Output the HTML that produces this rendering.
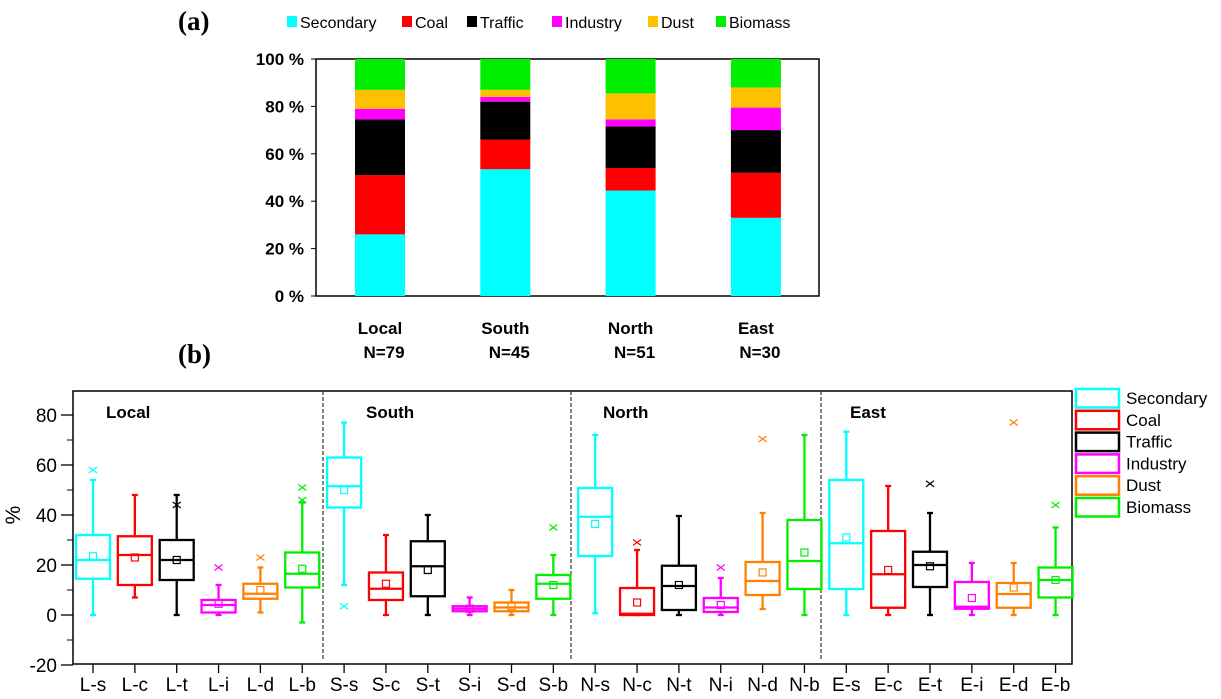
<!DOCTYPE html>
<html><head><meta charset="utf-8"><style>
html,body{margin:0;padding:0;background:#fff;}
svg{display:block;font-family:"Liberation Sans",sans-serif;}
</style></head><body>
<svg id="fig" width="1221" height="699" viewBox="0 0 1221 699">
<g id="top"></g>
<g id="bot"></g>
</svg>
<script>
const NS="http://www.w3.org/2000/svg";
// ---- chart (a) data ----
const regions=["Local","South","North","East"];
const nLabels=["N=79","N=45","N=51","N=30"];
const sources=["Secondary","Coal","Traffic","Industry","Dust","Biomass"];
const fillColors=["#00ffff","#ff0000","#000000","#ff00ff","#ffc000","#00ee00"];
const secondaryPct=[26,53.5,44.5,33];
const coalPct=[25,12.5,9.5,19];
const trafficPct=[23.5,16,17.5,18];
const industryPct=[4.5,2,3,9.5];
const dustPct=[8,3,11,8.5];
const biomassPct=[13,13,14.5,12];
const pctTicks=[0,20,40,60,80,100];
// ---- chart (b) data ----
const boxCats=["L-s","L-c","L-t","L-i","L-d","L-b","S-s","S-c","S-t","S-i","S-d","S-b","N-s","N-c","N-t","N-i","N-d","N-b","E-s","E-c","E-t","E-i","E-d","E-b"];
const whiskLow=[0,7,0,0,1,-3, 12,0,0,0,0,0, 0.7,0,0,0,2.4,0, 0,0,0,0,0,0];
const q1=[14.5,12,14,1,6.5,11, 43,6,7.5,1.5,1.5,6.5, 23.6,0,2,1.2,8,10.4, 10.4,2.9,11.2,2.5,2.9,7];
const medians=[22,24,22,4,8.5,16.5, 51.5,10.5,19.5,2.5,3,12.5, 39.3,0.5,11.6,3,13.6,21.6, 28.7,16.3,20,3.3,8.4,14];
const q3=[32,31.5,30,6,12.5,25, 63,17,29.5,3.5,5,16, 50.8,10.8,19.7,6.8,21.2,38, 54,33.6,25.3,13.2,12.8,19];
const whiskHigh=[54,48,48,12,19,45, 77,32,40,7,10,24, 72,26,39.6,14.8,40.8,72, 73.3,51.6,40.8,20.8,20.8,35];
const means=[23.5,23,22,4.5,10,18.5, 50,12.5,18,2.5,3.5,12, 36.4,5,12,4,17,25, 31,18,19.5,6.8,11,14];
const outliers=[[58],[],[44],[19],[23],[46,51],[3.5],[],[],[],[],[35],[],[29],[],[19],[70.4],[],[],[],[52.5],[],[77],[44]];
const boxTicks=[-20,0,20,40,60,80];
const groupNames=["Local","South","North","East"];
const boxColors=["#00ffff","#ff0000","#000000","#ff00ff","#ff8000","#00ee00"];

function mk(parent,tag,attrs,text){const e=document.createElementNS(NS,tag);for(const k in attrs)e.setAttribute(k,attrs[k]);if(text!==undefined)e.textContent=text;parent.appendChild(e);return e;}

// ===== chart (a) =====
const T=document.getElementById('top');
const ax0=316,ax1=819,ay0=296,ay1=59;
const ya=v=>ay0-(ay0-ay1)*v/100;
const xa=i=>380+i*125.3;
let e=mk(T,'text',{x:178,y:30,'font-family':'Liberation Serif,serif','font-size':27,'font-weight':'bold'},'(a)');

e=mk(T,'text',{x:178,y:363,'font-family':'Liberation Serif,serif','font-size':27,'font-weight':'bold'},'(b)');

const legX=[287,402,467,552,648,716];
sources.forEach((s,i)=>{const g=mk(T,'g',{});

mk(g,'rect',{x:legX[i],y:16,width:10,height:11,fill:fillColors[i]});
mk(g,'text',{x:legX[i]+13,y:28,'font-size':16},s);});
mk(T,'rect',{x:ax0,y:ay1,width:ax1-ax0,height:ay0-ay1,fill:'none',stroke:'#000','stroke-width':1.5});
pctTicks.forEach(t=>{mk(T,'line',{x1:ax0-5,x2:ax0,y1:ya(t),y2:ya(t),stroke:'#000'});
e=mk(T,'text',{x:ax0-12,y:ya(t)+6,'text-anchor':'end','font-size':17,'font-weight':'bold'},t+' %');
});
const stacks=[secondaryPct,coalPct,trafficPct,industryPct,dustPct,biomassPct];
regions.forEach((r,i)=>{let cum=0;
stacks.forEach((arr,k)=>{const v=arr[i];
const rc=mk(T,'rect',{x:xa(i)-25,y:ya(cum+v),width:50,height:ya(cum)-ya(cum+v),fill:fillColors[k]});

cum+=v;});
e=mk(T,'text',{x:xa(i),y:334,'text-anchor':'middle','font-size':17,'font-weight':'bold'},r);

e=mk(T,'text',{x:xa(i)+4,y:358,'text-anchor':'middle','font-size':17,'font-weight':'bold'},nLabels[i]);
});

// ===== chart (b) =====
const B=document.getElementById('bot');
const bx0=73,bx1=1072,by0=664,by1=391;
const yb=v=>615-2.5*v;
const xb=i=>93+i*41.85;
mk(B,'rect',{x:bx0,y:by1,width:bx1-bx0,height:by0-by1,fill:'none',stroke:'#000','stroke-width':1.5});
boxTicks.forEach(t=>{mk(B,'line',{x1:bx0-12,x2:bx0,y1:yb(t),y2:yb(t),stroke:'#000','stroke-width':1.3});
if(t<80)mk(B,'line',{x1:bx0-6,x2:bx0,y1:yb(t+10),y2:yb(t+10),stroke:'#000'});
e=mk(B,'text',{x:bx0-16,y:yb(t)+7,'text-anchor':'end','font-size':19},t);
});
e=mk(B,'text',{x:20,y:515,'text-anchor':'middle','font-size':21,transform:'rotate(-90 20 515)'},'%');

[323,571,821].forEach(x=>{const l=mk(B,'line',{x1:x,x2:x,y1:by1,y2:by0-3,stroke:'#333','stroke-dasharray':'4,2','stroke-width':1.2});
});
groupNames.forEach((g,i)=>{e=mk(B,'text',{x:[106,366,603,850][i],y:418,'font-size':17,'font-weight':'bold'},g);
});
boxCats.forEach((c,i)=>{const col=boxColors[i%6];const x=xb(i);const w=17;
const g=mk(B,'g',{stroke:col,fill:'none','stroke-width':2.3});

mk(g,'line',{x1:x,x2:x,y1:yb(whiskHigh[i]),y2:yb(q3[i])});
mk(g,'line',{x1:x,x2:x,y1:yb(q1[i]),y2:yb(whiskLow[i])});
mk(g,'line',{x1:x-3,x2:x+3,y1:yb(whiskHigh[i]),y2:yb(whiskHigh[i])});
mk(g,'line',{x1:x-3,x2:x+3,y1:yb(whiskLow[i]),y2:yb(whiskLow[i])});
mk(g,'rect',{x:x-w,y:yb(q3[i]),width:2*w,height:Math.max(1,yb(q1[i])-yb(q3[i]))});
mk(g,'line',{x1:x-w,x2:x+w,y1:yb(medians[i]),y2:yb(medians[i])});
mk(g,'rect',{x:x-3.5,y:yb(means[i])-3.5,width:7,height:7,'stroke-width':1.2});
outliers[i].forEach(o=>{const y=yb(o);mk(g,'path',{d:`M${x-4} ${y-3}L${x+4} ${y+3}M${x-4} ${y+3}L${x+4} ${y-3}`,'stroke-width':1.2});});
mk(B,'line',{x1:x,x2:x,y1:by0,y2:by0+9,stroke:'#000','stroke-width':1.3});
e=mk(B,'text',{x:x,y:691,'text-anchor':'middle','font-size':19},c);
});
sources.forEach((s,i)=>{const g=mk(B,'g',{});

const y=389+i*21.8;
mk(g,'rect',{x:1076,y:y,width:43,height:18.5,fill:'none',stroke:boxColors[i],'stroke-width':2.5});
mk(g,'text',{x:1126,y:y+15,'font-size':17},s);});
</script>
</body></html>
